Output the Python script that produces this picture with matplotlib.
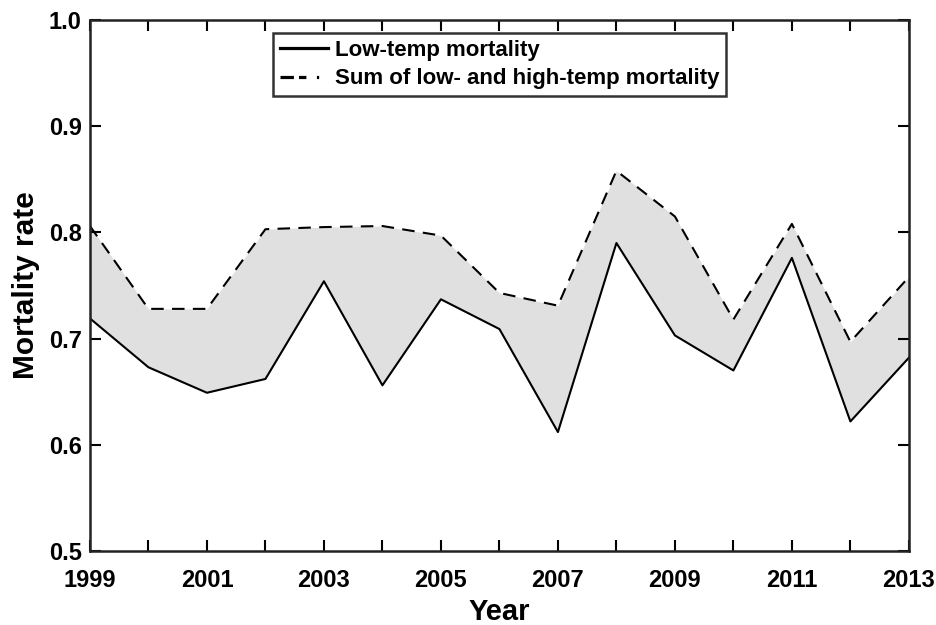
import matplotlib
matplotlib.use("Agg")
import matplotlib.pyplot as plt
from matplotlib.lines import Line2D

plt.rcParams['font.family'] = ['Liberation Sans', 'DejaVu Sans']
plt.rcParams['font.weight'] = 'bold'

years = [1999, 2000, 2001, 2002, 2003, 2004, 2005, 2006,
         2007, 2008, 2009, 2010, 2011, 2012, 2013]
low_temp = [0.719, 0.673, 0.649, 0.662, 0.754, 0.656, 0.737, 0.709,
            0.612, 0.790, 0.703, 0.670, 0.776, 0.622, 0.682]
low_high_sum = [0.806, 0.728, 0.728, 0.803, 0.805, 0.806, 0.797, 0.743,
                0.731, 0.858, 0.815, 0.718, 0.808, 0.697, 0.758]
xtick_years = [1999, 2001, 2003, 2005, 2007, 2009, 2011, 2013]
yticks = [0.5, 0.6, 0.7, 0.8, 0.9, 1.0]
labels = ['Low-temp mortality', 'Sum of low- and high-temp mortality']

fig = plt.figure(figsize=(9.37, 6.25), dpi=100)
ax = fig.add_axes([0.096, 0.1184, 0.874, 0.8496])

# shaded band between the two curves
ax.fill_between(years, low_temp, low_high_sum, color='#e0e0e0', linewidth=0)
ax.plot(years, low_temp, color='black', lw=1.5)
ax.plot(years, low_high_sum, color='black', lw=1.5, dashes=(6, 4))

ax.set_xlim(1999, 2013)
ax.set_ylim(0.5, 1.0)
ax.set_xticks(xtick_years)
ax.set_xticklabels([str(y) for y in xtick_years])
ax.set_xticks(years, minor=True)
ax.set_yticks(yticks)
ax.set_yticklabels([f'{v:.1f}' for v in yticks])

ax.tick_params(axis='both', which='both', direction='in', top=True, right=True,
               width=1.5, length=8, labelsize=17)
ax.tick_params(axis='x', which='major', pad=13)
ax.tick_params(axis='y', which='major', pad=6)
for s in ax.spines.values():
    s.set_linewidth(1.8)
    s.set_color('#222222')

ax.set_xlabel('Year', fontsize=21, fontweight='bold', labelpad=4)
ax.set_ylabel('Mortality rate', fontsize=21.5, fontweight='bold', labelpad=6)

# legend handles drawn a bit heavier than the plotted lines
handles = [Line2D([], [], color='black', lw=2.3),
           Line2D([], [], color='black', lw=2.3,
                  dashes=(4.2, 1.6, 2.3, 3.3, 0.7, 20))]
leg = ax.legend(handles, labels, loc='upper center',
                bbox_to_anchor=(0.5, 0.9755), borderaxespad=0, fontsize=16,
                frameon=True, fancybox=False, handlelength=2.16,
                borderpad=0.3, labelspacing=0.35, handletextpad=0.3)
leg.get_frame().set_edgecolor('black')
leg.get_frame().set_linewidth(1.8)
for t in leg.get_texts():
    t.set_fontweight('bold')

fig.savefig('out.png', dpi=100)
